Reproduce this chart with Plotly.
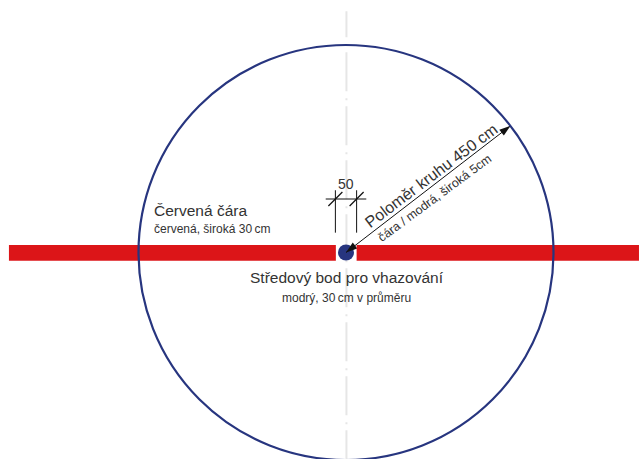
import plotly.graph_objects as go

# All lengths in centimetres on the rink, centre of the circle at (0, 0)
RADIUS = 450
RED_LEFT_X = [-731, -22]
RED_RIGHT_X = [23, 635.4]
RED_Y = [-18, 16]
DOT_DIAMETER_PX = 16
AXIS_X = [1, 1]
AXIS_Y = [523, -448]
DIM_LEFT_X = [-23, -23]
DIM_RIGHT_X = [23, 23]
DIM_Y = [135, 43]
DIM_BAR_X = [-44, 44]
DIM_BAR_Y = [116, 116]
ARROW_X = [0, 357]
ARROW_Y = [0, 275]
LABELS = [
    ("Červená čára", -420, 92, 0, "left", 15.5),
    ("červená, široká 30\u2009cm", -420, 50, 0, "left", 12),
    ("Středový bod pro vhazování", 2, -55, 0, "center", 15.5),
    ("modrý, 30\u2009cm v průměru", 2, -99, 0, "center", 12),
    ("Poloměr kruhu 450 cm", 186, 166, -37, "center", 16),
    ("čára / modrá, široká 5cm", 193, 118, -36.5, "center", 12.5),
    ("50", 0, 148, 0, "center", 14),
]

PX_PER_CM = 0.4611
RED = "#dc1518"
NAVY = "#27357f"
FONT = "Liberation Sans"
INK = "#333333"

fig = go.Figure()
fig.add_trace(go.Scatter(x=AXIS_X, y=AXIS_Y, mode="lines",
    line=dict(color="#e6e6e6", width=2,
              dash="26px,7px,2px,6px,39px,7px,2px,6px,39px,7px,2px,6px,39px,7px,2px,6px,39px,7px,2px,6px,39px,7px,2px,6px,39px,7px,2px,6px,39px,7px,2px,6px,39px,7px,2px,6px")))
for xs in (RED_LEFT_X, RED_RIGHT_X):
    fig.add_shape(type="rect", x0=xs[0], x1=xs[1], y0=RED_Y[0], y1=RED_Y[1],
                  fillcolor=RED, line_width=0, layer="above")
fig.add_shape(type="circle", x0=-RADIUS, x1=RADIUS, y0=-RADIUS, y1=RADIUS,
              line=dict(color=NAVY, width=2.2), layer="above")
fig.add_trace(go.Scatter(x=[0], y=[0], mode="markers",
    marker=dict(color=NAVY, size=DOT_DIAMETER_PX)))
for xs in (DIM_LEFT_X, DIM_RIGHT_X):
    fig.add_trace(go.Scatter(x=xs, y=DIM_Y, mode="lines", line=dict(color="#111111", width=1)))
fig.add_trace(go.Scatter(x=DIM_BAR_X, y=DIM_BAR_Y, mode="lines", line=dict(color="#111111", width=1)))
fig.add_trace(go.Scatter(x=[DIM_LEFT_X[0], DIM_RIGHT_X[0]], y=DIM_BAR_Y, mode="markers",
    marker=dict(symbol="line-ne", size=14, line=dict(color="#111111", width=1.2))))
fig.add_trace(go.Scatter(x=ARROW_X, y=ARROW_Y, mode="lines+markers",
    line=dict(color="#111111", width=1),
    marker=dict(symbol="arrow", size=12, color="#111111", angle=[232.4, 52.4],
                line=dict(width=0))))
for text, x, y, angle, align, size in LABELS:
    fig.add_annotation(x=x, y=y, text=text, showarrow=False, textangle=angle,
                       xanchor=align, yanchor="middle",
                       font=dict(family=FONT, size=size, color=INK))
fig.update_layout(
    width=639, height=459, margin=dict(l=0, r=0, t=0, b=0),
    paper_bgcolor="white", plot_bgcolor="white", showlegend=False,
    xaxis=dict(visible=False, range=[-346 / PX_PER_CM, 293 / PX_PER_CM]),
    yaxis=dict(visible=False, range=[-206.5 / PX_PER_CM, 252.5 / PX_PER_CM]),
)
fig.write_html("out.html", config=dict(displayModeBar=False),
               post_script="document.body.style.margin='0';document.documentElement.style.overflow='hidden';")
